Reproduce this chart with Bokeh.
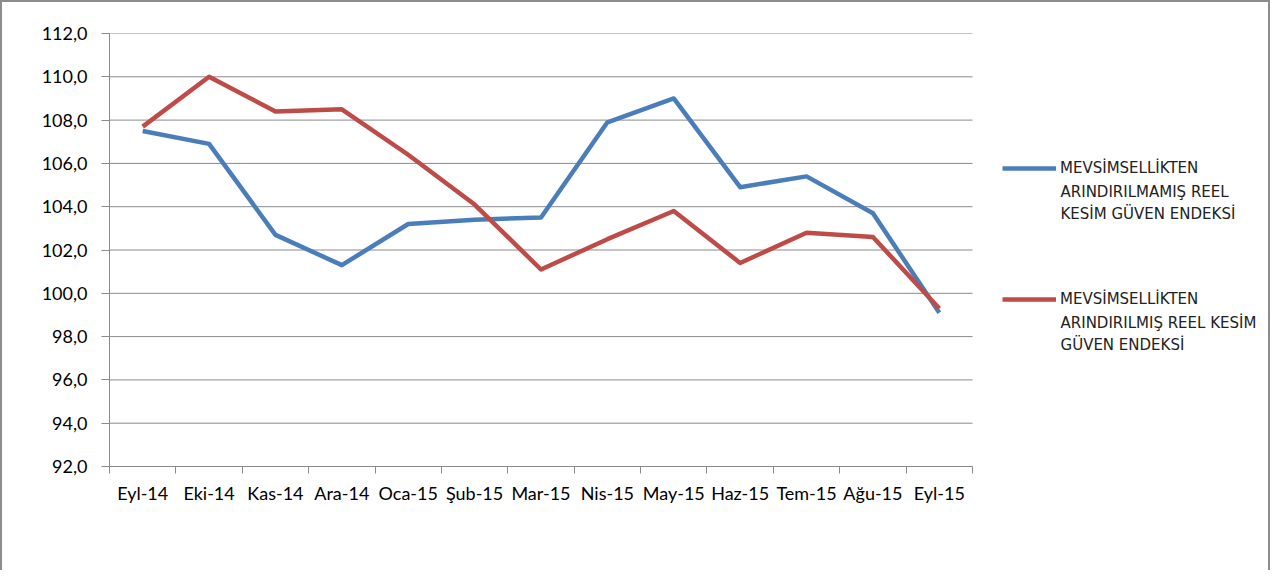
from bokeh.plotting import figure
from bokeh.models import FixedTicker, Legend, LegendItem, Range1d, Label
from bokeh.embed import file_html
from bokeh.resources import INLINE

months = ["Eyl-14", "Eki-14", "Kas-14", "Ara-14", "Oca-15", "Şub-15", "Mar-15",
          "Nis-15", "May-15", "Haz-15", "Tem-15", "Ağu-15", "Eyl-15"]
unadjusted = [107.5, 106.9, 102.7, 101.3, 103.2, 103.4, 103.5, 107.9, 109.0, 104.9, 105.4, 103.7, 99.1]
adjusted = [107.7, 110.0, 108.4, 108.5, 106.4, 104.1, 101.1, 102.5, 103.8, 101.4, 102.8, 102.6, 99.3]
y_ticks = [92, 94, 96, 98, 100, 102, 104, 106, 108, 110, 112]
y_tick_labels = ["92,0", "94,0", "96,0", "98,0", "100,0", "102,0", "104,0",
                 "106,0", "108,0", "110,0", "112,0"]
series_names = [["MEVSİMSELLİKTEN", "ARINDIRILMAMIŞ REEL", "KESİM GÜVEN ENDEKSİ"],
                ["MEVSİMSELLİKTEN", "ARINDIRILMIŞ REEL KESİM", "GÜVEN ENDEKSİ"]]
colors = ["#4A7EBB", "#BE4B48"]

n = len(months)
xs = [i + 0.5 for i in range(n)]
bounds = [i for i in range(n + 1)]

# layout (pixels)
W, H = 1270, 570
LEFT, TOP, BOTTOM, RIGHT = 107, 31, 106, 6
PLOT_W = 863                      # width of the category area
FRAME_W = W - LEFT - RIGHT
x_end = n * FRAME_W / PLOT_W      # extend the frame so the legend lies inside it

p = figure(width=W, height=H, output_backend="svg", toolbar_location=None,
           x_range=Range1d(0, x_end), y_range=Range1d(92, 112),
           min_border_left=LEFT, min_border_top=TOP, min_border_right=RIGHT,
           min_border_bottom=BOTTOM,
           background_fill_color="white", border_fill_color="white")
p.styles = {"border-top": "2px solid #8c8c8c", "border-left": "2px solid #8c8c8c",
            "border-right": "2px solid #8c8c8c"}
p.outline_line_color = None

# horizontal grid lines only across the category area
p.xgrid.visible = False
p.ygrid.visible = False
p.segment(x0=[0] * len(y_ticks), x1=[n] * len(y_ticks), y0=y_ticks, y1=y_ticks,
          line_color="#8a8a8a", line_width=1)

r1 = p.line(xs, unadjusted, line_color=colors[0], line_width=4.5, line_join="round")
r2 = p.line(xs, adjusted, line_color=colors[1], line_width=4.5, line_join="round")

p.yaxis.ticker = FixedTicker(ticks=y_ticks)
p.yaxis.major_label_overrides = {t: l for t, l in zip(y_ticks, y_tick_labels)}
p.yaxis.axis_line_color = "#8a8a8a"
p.yaxis.major_tick_line_color = "#8a8a8a"
p.yaxis.major_tick_out = 8
p.yaxis.major_tick_in = 0
p.yaxis.minor_tick_line_color = None
p.yaxis.major_label_standoff = 14
p.yaxis.major_label_text_font = "Lato"
p.yaxis.major_label_text_font_size = "18px"
p.yaxis.major_label_text_color = "black"

p.xaxis.ticker = FixedTicker(ticks=xs, minor_ticks=bounds)
p.xaxis.bounds = (0, n)
p.xaxis.major_label_overrides = {x: m for x, m in zip(xs, months)}
p.xaxis.axis_line_color = "#8a8a8a"
p.xaxis.major_tick_line_color = None
p.xaxis.major_tick_out = 0
p.xaxis.major_tick_in = 0
p.xaxis.minor_tick_line_color = "#8a8a8a"
p.xaxis.minor_tick_out = 7
p.xaxis.minor_tick_in = 0
p.xaxis.major_label_standoff = 8
p.xaxis.major_label_text_font = "Lato"
p.xaxis.major_label_text_font_size = "18px"
p.xaxis.major_label_text_color = "black"

LEG_FONT = "DejaVu Sans"
LEG_SIZE = "15px"
legend = Legend(items=[LegendItem(label=series_names[0][0], renderers=[r1]),
                       LegendItem(label=series_names[1][0], renderers=[r2])],
                location=(893, 157), orientation="vertical")
legend.border_line_color = None
legend.background_fill_alpha = 0
legend.glyph_width = 54
legend.glyph_height = 20
legend.label_height = 20
legend.label_standoff = 4
legend.spacing = 111
legend.padding = 0
legend.margin = 0
legend.label_text_font = LEG_FONT
legend.label_text_font_size = LEG_SIZE
legend.label_text_color = "#222222"
p.add_layout(legend, "center")

# continuation lines of the legend labels
cont_x = 14.326
cont_y = [[104.70, 103.64], [98.65, 97.59]]
for names, ys in zip(series_names, cont_y):
    for txt, yv in zip(names[1:], ys):
        p.add_layout(Label(x=cont_x, y=yv, text=txt, text_baseline="middle",
                           text_font=LEG_FONT, text_font_size=LEG_SIZE,
                           text_color="#222222"))

open("out.html", "w").write(file_html(p, INLINE))
